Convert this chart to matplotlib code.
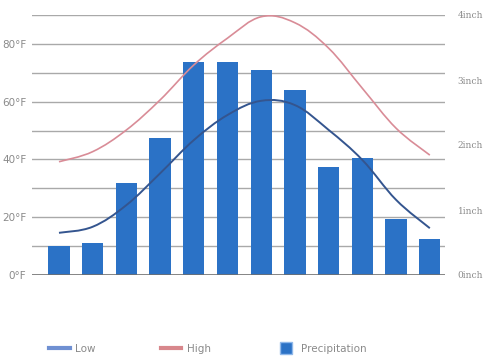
import matplotlib
matplotlib.use("Agg")
import matplotlib.pyplot as plt
from matplotlib.path import Path
from matplotlib.patches import PathPatch
from matplotlib.lines import Line2D
import numpy as np

months = ["Jan", "Feb", "Mar", "Apr", "May", "Jun",
          "Jul", "Aug", "Sep", "Oct", "Nov", "Dec"]
high_f = [39.2, 42.7, 50.2, 60.6, 72.7, 82.0, 89.4, 87.3, 78.5, 64.6, 50.8, 41.5]
low_f = [14.6, 16.7, 24.2, 35.2, 46.7, 55.4, 60.3, 58.8, 50.2, 39.8, 26.0, 16.2]
precip_in = [0.44, 0.50, 1.41, 2.11, 3.27, 3.27, 3.16, 2.84, 1.66, 1.80, 0.86, 0.55]

temp_ticks = [0, 20, 40, 60, 80]
temp_labels = ["0°F", "20°F", "40°F", "60°F", "80°F"]
rain_ticks = [0, 1, 2, 3, 4]
rain_labels = ["0inch", "1inch", "2inch", "3inch", "4inch"]

BAR = "#2b72c6"
LOW = "#34558f"
HIGH = "#d98c97"
GRID = "#a9a9a9"
TXT = "#8a8a8a"


def smooth_path(xs, ys, k=0.18):
    """Cardinal-spline style Bezier path through the given points."""
    xs = np.asarray(xs, float)
    ys = np.asarray(ys, float)
    n = len(xs)
    verts = [(xs[0], ys[0])]
    codes = [Path.MOVETO]
    for i in range(n - 1):
        p0 = np.array([xs[max(i - 1, 0)], ys[max(i - 1, 0)]])
        p1 = np.array([xs[i], ys[i]])
        p2 = np.array([xs[i + 1], ys[i + 1]])
        p3 = np.array([xs[min(i + 2, n - 1)], ys[min(i + 2, n - 1)]])
        c1 = p1 + (p2 - p0) * k
        c2 = p2 - (p3 - p1) * k
        verts += [tuple(c1), tuple(c2), tuple(p2)]
        codes += [Path.CURVE4] * 3
    return Path(verts, codes)


fig = plt.figure(figsize=(4.87, 3.58), dpi=100)
ax = fig.add_axes([32 / 487, 1 - 275 / 358, (445 - 32) / 487, 260 / 358])
ax2 = ax.twinx()

x = np.arange(len(months))

# precipitation bars on the right-hand (inch) axis
ax2.bar(x, precip_in, width=0.63, color=BAR, zorder=2)
ax2.set_ylim(0, 4)

ax.set_zorder(ax2.get_zorder() + 1)
ax.patch.set_visible(False)

ax.set_xlim(-0.8, 11.45)
ax.set_ylim(0, 90)
ax2.set_xlim(-0.8, 11.45)

# horizontal grid every 10°F
for g in range(10, 91, 10):
    ax2.axhline(g * 4 / 90, color=GRID, lw=1.0, zorder=1)
ax2.axhline(0, color="#6f6f6f", lw=1.2, zorder=3)

ax.add_patch(PathPatch(smooth_path(x, high_f), fill=False, ec=HIGH, lw=1.2, zorder=4))
ax.add_patch(PathPatch(smooth_path(x, low_f), fill=False, ec=LOW, lw=1.4, zorder=4))

for a in (ax, ax2):
    for s in a.spines.values():
        s.set_visible(False)

ax.set_yticks(temp_ticks)
ax.set_yticklabels(temp_labels, color=TXT, fontsize=7.5)
ax.tick_params(axis="y", length=0, pad=4)
ax2.set_yticks(rain_ticks)
ax2.set_yticklabels(rain_labels, color=TXT, fontsize=6.5, fontfamily="DejaVu Serif")
ax2.tick_params(axis="y", length=0, pad=9)

ax.set_xticks(x)
ax.set_xticklabels(months, rotation=90, fontsize=7, color="#6f8fcf")
ax.get_xticklabels()[0].set_color("#3f6fd0")
ax.tick_params(axis="x", length=0, pad=7)
ax2.set_xticks([])

handles = [
    Line2D([0], [0], color="#6f90d2", lw=3),
    Line2D([0], [0], color="#d8878c", lw=3),
    Line2D([0], [0], color=BAR, lw=0, marker="s", markersize=8.5,
           markeredgecolor="#8fb8ea", markeredgewidth=1),
]
fig.legend(handles, ["Low", "High", "Precipitation"], loc="center left",
           bbox_to_anchor=(40 / 487, 1 - 349 / 358), ncol=3, frameon=False,
           fontsize=7.5, labelcolor=TXT, handlelength=2.0, columnspacing=6.2,
           handletextpad=0.5)

fig.savefig("out.png", dpi=100, facecolor="white")
